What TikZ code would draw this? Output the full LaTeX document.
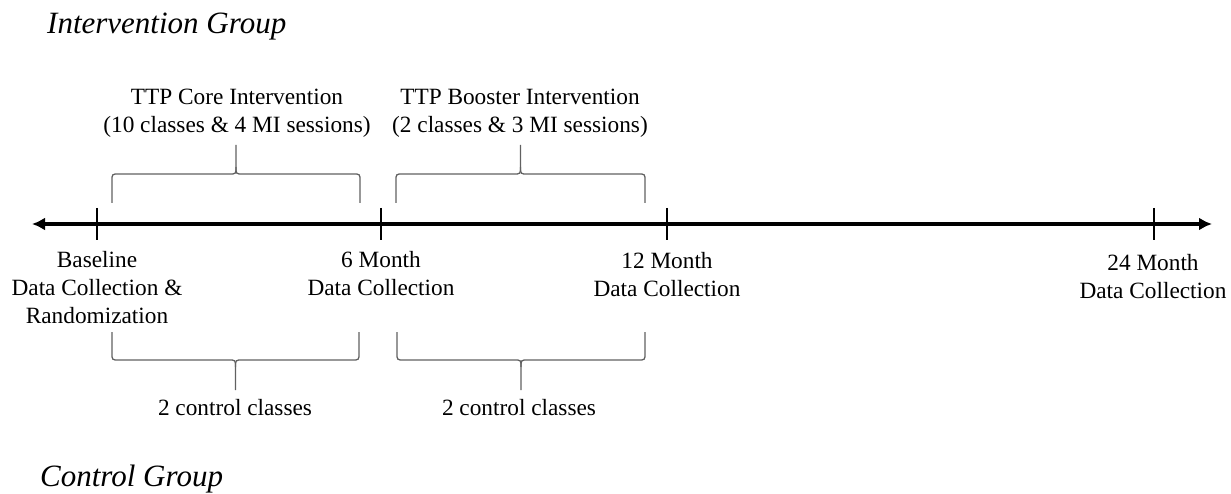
\documentclass[tikz,border=0pt]{standalone}
\usepackage{fontspec}
\setmainfont{Liberation Serif}
\usetikzlibrary{arrows.meta,calc}

\tikzset{
  axisline/.style={line width=4.5pt, {Latex[length=13pt,width=13pt]}-{Latex[length=13pt,width=13pt]}},
  tickmark/.style={line width=2.6pt},
  bracestyle/.style={draw=black!62, line width=1.3pt},
  lbl/.style={font=\fontsize{23.3}{28}\selectfont, align=center, inner sep=0pt, anchor=north},
  onelbl/.style={font=\fontsize{23.3}{28}\selectfont, inner sep=0pt, anchor=base},
  grouptitle/.style={font=\fontsize{31}{36}\selectfont\itshape, inner sep=0pt, anchor=base west},
}

% curly brace: x1, x2, y of the ends, y of the bar, y of the tip, direction of the tip (-1 up, +1 down)
\newcommand{\curlybrace}[6]{%
  \draw[bracestyle]
    (#1,#3) -- (#1,{#4-#6*7}) .. controls (#1,#4) .. ({#1+7},#4)
    -- ({(#1+#2)/2-7},#4) .. controls ({(#1+#2)/2},#4) .. ({(#1+#2)/2},{#4+#6*7})
    -- ({(#1+#2)/2},#5);
  \draw[bracestyle]
    ({(#1+#2)/2},{#4+#6*7}) .. controls ({(#1+#2)/2},#4) .. ({(#1+#2)/2+7},#4)
    -- ({#2-7},#4) .. controls (#2,#4) .. (#2,{#4-#6*7}) -- (#2,#3);
}

\begin{document}
\begin{tikzpicture}[x=1pt,y=-1pt]
  \useasboundingbox (0,0) rectangle (1231,494);

  % time axis
  \coordinate (L) at (32,224);
  \coordinate (R) at (1212,224);
  \draw[axisline] (L) -- (R);

  % tick marks
  \foreach \n/\x in {t0/97, t1/381, t2/667, t3/1154}{
    \coordinate (\n) at (\x,224);
    \draw[tickmark] ($(\n)+(0,-16)$) -- ($(\n)+(0,16)$);
  }

  % group titles
  \node[grouptitle] (ig) at (47,34) {Intervention Group};
  \node[grouptitle] (cg) at (40,486) {Control Group};

  % intervention phases above the axis
  \curlybrace{112}{360}{203}{174}{145}{-1}
  \curlybrace{396}{645}{203}{174}{145}{-1}
  \node[lbl] (core) at (237,89) {TTP Core Intervention\\(10 classes \& 4 MI sessions)};
  \node[lbl] (boost) at (520,89) {TTP Booster Intervention\\(2 classes \& 3 MI sessions)};

  % data collection points below the axis
  \node[lbl] (base) at (97,251) {Baseline\\Data Collection \&\\Randomization};
  \node[lbl] (m6) at (381,251) {6 Month\\Data Collection};
  \node[lbl] (m12) at (667,252) {12 Month\\Data Collection};
  \node[lbl] (m24) at (1153,254) {24 Month\\Data Collection};

  % control phases below the axis
  \curlybrace{112}{359}{332}{360}{390}{1}
  \curlybrace{397}{645}{332}{360}{390}{1}
  \node[onelbl] (c1) at (235,415) {2 control classes};
  \node[onelbl] (c2) at (519,415) {2 control classes};
\end{tikzpicture}
\end{document}
